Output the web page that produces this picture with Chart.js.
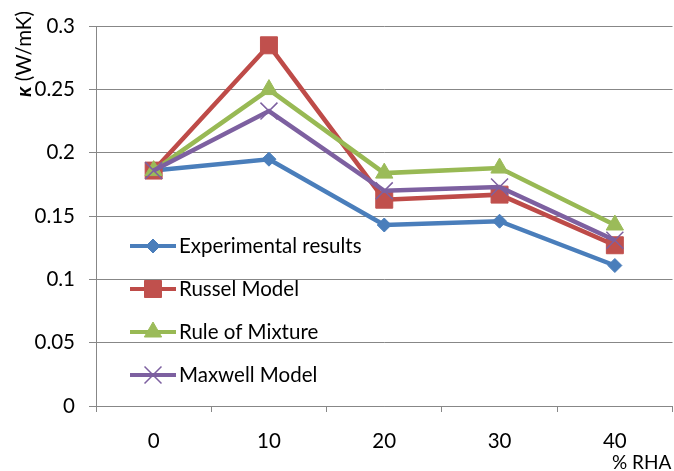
<!DOCTYPE html>
<html>
<head>
<meta charset="utf-8">
<script src="https://cdn.jsdelivr.net/npm/chart.js@4.4.1/dist/chart.umd.min.js"></script>
<style>
html, body { margin: 0; padding: 0; background: #fff; overflow: hidden; }
canvas { display: block; }
</style>
</head>
<body>
<canvas id="kChart" width="686" height="471" style="width:686px;height:471px"></canvas>
<script>
// values
var rhaLevels = ['0', '10', '20', '30', '40'];
var experimental = [0.186, 0.195, 0.143, 0.146, 0.111];
var russel = [0.186, 0.285, 0.163, 0.167, 0.127];
var ruleOfMixture = [0.186, 0.250, 0.184, 0.188, 0.143];
var maxwell = [0.186, 0.233, 0.170, 0.173, 0.131];
var yTicks = [0, 0.05, 0.1, 0.15, 0.2, 0.25, 0.3];

var gridGray = '#878787';
var fontName = 'Lato';
var fontSize = 20.5;

Chart.defaults.font.family = fontName;
Chart.defaults.font.size = fontSize;
Chart.defaults.color = '#000';

// ---------- LEGEND (inside the plot, lower left) ----------
var insideLegend = {
  id: 'insideLegend',
  afterDraw: function(chart) {
    var ctx = chart.ctx;
    var top = 246, step = 43;
    ctx.save();
    chart.data.datasets.forEach(function(ds, i) {
      var y = top + i * step;
      ctx.strokeStyle = ds.borderColor;
      ctx.lineWidth = 4;
      ctx.beginPath();
      ctx.moveTo(130, y);
      ctx.lineTo(176, y);
      ctx.stroke();
      ctx.fillStyle = ds.pointBackgroundColor;
      ctx.strokeStyle = ds.pointBorderColor;
      ctx.lineWidth = ds.pointBorderWidth;
      Chart.helpers.drawPoint(ctx, {
        pointStyle: ds.pointStyle,
        radius: ds.pointRadius,
        rotation: 0,
        borderWidth: ds.pointBorderWidth
      }, 153, y);
      ctx.fillStyle = '#000';
      ctx.font = fontSize + 'px ' + fontName;
      ctx.textAlign = 'left';
      ctx.textBaseline = 'middle';
      ctx.fillText(ds.label, 179, y);
    });
    ctx.restore();
  }
};

// ---------- AXIS TITLES ----------
var axisTitles = {
  id: 'axisTitles',
  afterDraw: function(chart) {
    var ctx = chart.ctx;
    ctx.save();
    ctx.fillStyle = '#000';
    ctx.textBaseline = 'middle';
    ctx.textAlign = 'left';
    // y title, reads bottom to top
    ctx.translate(24, 97);
    ctx.rotate(-Math.PI / 2);
    ctx.font = 'italic bold 21px ' + fontName;
    ctx.fillText('\u03ba', 0, 0);
    var w = ctx.measureText('\u03ba').width;
    ctx.font = fontSize + 'px ' + fontName;
    ctx.fillText(' (W/mK)', w, 0);
    ctx.restore();

    ctx.save();
    ctx.fillStyle = '#000';
    ctx.font = '19px ' + fontName;
    ctx.textBaseline = 'middle';
    ctx.textAlign = 'left';
    ctx.fillText('% RHA', 612, 463);
    ctx.restore();
  }
};

var kChart = new Chart(document.getElementById('kChart'), {
  type: 'line',
  data: {
    labels: rhaLevels,
    datasets: [
      {
        label: 'Experimental results',
        data: experimental,
        borderColor: '#4a7ebb',
        borderWidth: 4.5,
        pointStyle: 'rectRot',
        pointRadius: 7,
        pointBackgroundColor: '#4a7ebb',
        pointBorderColor: '#4a7ebb',
        pointBorderWidth: 1,
        order: 4
      },
      {
        label: 'Russel Model',
        data: russel,
        borderColor: '#be4b48',
        borderWidth: 4.5,
        pointStyle: 'rect',
        pointRadius: 12,
        pointBackgroundColor: '#c0504d',
        pointBorderColor: '#c0504d',
        pointBorderWidth: 1,
        order: 3
      },
      {
        label: 'Rule of Mixture',
        data: ruleOfMixture,
        borderColor: '#98b954',
        borderWidth: 4.5,
        pointStyle: 'triangle',
        pointRadius: 10,
        pointBackgroundColor: '#9bbb59',
        pointBorderColor: '#9bbb59',
        pointBorderWidth: 1,
        order: 2
      },
      {
        label: 'Maxwell Model',
        data: maxwell,
        borderColor: '#7d60a0',
        borderWidth: 4.5,
        pointStyle: 'crossRot',
        pointRadius: 12,
        pointBackgroundColor: '#7d60a0',
        pointBorderColor: '#7d60a0',
        pointBorderWidth: 1.5,
        order: 1
      }
    ]
  },
  options: {
    responsive: false,
    animation: false,
    devicePixelRatio: 1,
    layout: { padding: { top: 22, right: 1, bottom: 0, left: 0 } },
    plugins: {
      legend: { display: false },
      tooltip: { enabled: false }
    },
    elements: { line: { tension: 0 } },
    scales: {
      x: {
        offset: true,
        grid: {
          offset: true,
          drawOnChartArea: false,
          drawTicks: true,
          tickLength: 6,
          color: gridGray
        },
        border: { display: true, color: gridGray },
        ticks: { padding: 17, maxRotation: 0 },
        afterFit: function(scale) { scale.height = 65; }
      },
      y: {
        min: 0,
        max: 0.3,
        grid: { color: gridGray, tickLength: 7 },
        border: { display: true, color: gridGray },
        ticks: {
          padding: 14,
          callback: function(v) { return String(Math.round(v * 100) / 100); }
        },
        afterBuildTicks: function(scale) {
          scale.ticks = yTicks.map(function(v) { return { value: v }; });
        },
        afterFit: function(scale) { scale.width = 96; }
      }
    }
  },
  plugins: [insideLegend, axisTitles]
});

// nudge the plot area so it sits at top 22 / right 681 like the original
var area = kChart.chartArea;
var pad = kChart.options.layout.padding;
var dTop = area.top - 22;
var dRight = area.right - 681;
if (dTop !== 0 || dRight !== 0) {
  pad.top = pad.top - dTop;
  pad.right = pad.right + dRight;
  kChart.update();
}
</script>
</body>
</html>
